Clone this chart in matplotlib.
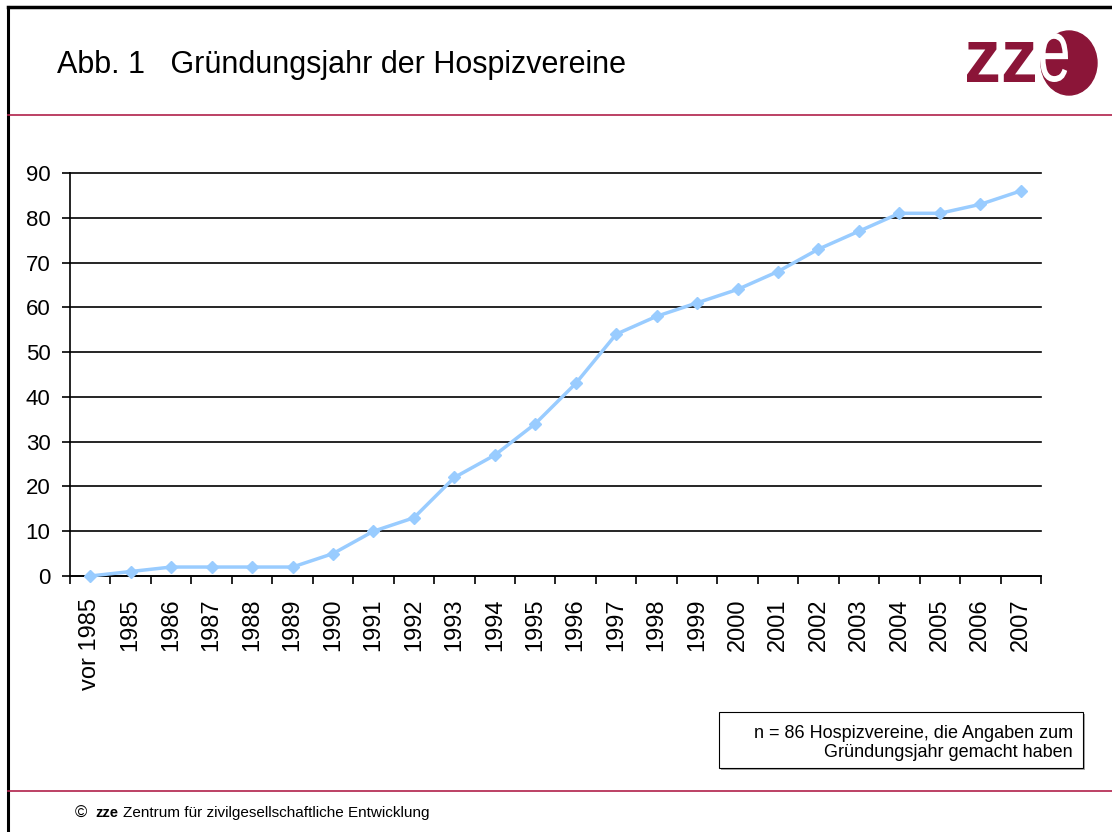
import numpy as np
import matplotlib.pyplot as plt
from matplotlib.patches import Ellipse, Rectangle, PathPatch
from matplotlib.lines import Line2D
from matplotlib.textpath import TextPath
from matplotlib.font_manager import FontProperties
from matplotlib.transforms import Affine2D

plt.rcParams['font.family'] = ['Liberation Sans', 'DejaVu Sans']

jahre = ['vor 1985', '1985', '1986', '1987', '1988', '1989', '1990', '1991',
         '1992', '1993', '1994', '1995', '1996', '1997', '1998', '1999',
         '2000', '2001', '2002', '2003', '2004', '2005', '2006', '2007']
anzahl = [0, 1, 2, 2, 2, 2, 5, 10, 13, 22, 27, 34, 43, 54, 58, 61,
          64, 68, 73, 77, 81, 81, 83, 86]
y_ticks = [0, 10, 20, 30, 40, 50, 60, 70, 80, 90]

W, H = 1112, 832
rot = '#8b1538'

fig = plt.figure(figsize=(W / 100, H / 100), dpi=100)


def logo_text(s, x0, x1, y0, y1, farbe, weight='normal', z=3):
    # Text als Pfad, in ein Pixel-Rechteck eingepasst (y von oben gezaehlt)
    p = TextPath((0, 0), s, size=50, prop=FontProperties(family='Liberation Sans', weight=weight))
    ext = p.get_extents()
    sx = (x1 - x0) / ext.width
    sy = (y1 - y0) / ext.height
    tr = Affine2D().translate(-ext.x0, -ext.y0).scale(sx, sy).translate(x0, H - y1)
    fig.add_artist(PathPatch(tr.transform_path(p), facecolor=farbe,
                             edgecolor='none', transform=None, zorder=z))


# Rahmen und rote Trennlinien
fig.add_artist(Line2D([8 / W, 8 / W], [0, 1 - 7 / H], color='black', lw=2.2))
fig.add_artist(Line2D([8 / W, 1], [1 - 7 / H, 1 - 7 / H], color='black', lw=2.5))
fig.add_artist(Line2D([8 / W, 1], [1 - 115 / H, 1 - 115 / H], color='#b0204a', lw=1.2))
fig.add_artist(Line2D([8 / W, 1], [1 - 791 / H, 1 - 791 / H], color='#b0204a', lw=1.2))

fig.text(57 / W, 1 - 65 / H, 'Abb. 1   Gründungsjahr der Hospizvereine',
         fontsize=22, va='center', ha='left')

# Logo
fig.add_artist(Ellipse((1069 / W, 1 - 63 / H), 56 / W, 64 / H,
                       transform=fig.transFigure, color=rot, zorder=2))
logo_text('zz', 967, 1035, 42, 82, rot, weight='bold')
logo_text('e', 1040, 1068, 33, 82, 'white')

ax = fig.add_axes([70 / W, 1 - 576 / H, (1041 - 70) / W, (576 - 173) / H])
x = np.arange(len(jahre))
ax.plot(x, anzahl, color='#99ccff', lw=2.5, marker='D', markersize=6.5,
        zorder=3, clip_on=False)

ax.set_xlim(-0.5, len(jahre) - 0.5)
ax.set_ylim(0, 90)
ax.set_yticks(y_ticks)
ax.tick_params(axis='y', labelsize=16, length=6, width=1.2, direction='out', pad=8)
ax.yaxis.grid(True, color='black', lw=1.2)
for gl in ax.get_ygridlines():
    gl.set_clip_on(False)
ax.set_axisbelow(True)

ax.set_xticks(x)
ax.set_xticklabels(jahre, rotation=90, fontsize=17)
ax.tick_params(axis='x', length=0, pad=16)
ax.set_xticks(np.arange(-0.5, len(jahre)), minor=True)
ax.tick_params(axis='x', which='minor', length=6, width=1.2, direction='out')

for s in ['top', 'right']:
    ax.spines[s].set_visible(False)
ax.spines['left'].set_linewidth(1.2)
ax.spines['bottom'].set_linewidth(1.2)

# Hinweisbox
fig.add_artist(Rectangle((721 / W, 1 - 770 / H), 364 / W, 56 / H,
                         transform=fig.transFigure, facecolor='#aaaaaa',
                         edgecolor='none'))
fig.add_artist(Rectangle((719 / W, 1 - 768 / H), 364 / W, 56 / H,
                         transform=fig.transFigure, facecolor='white',
                         edgecolor='black', lw=0.8))
fig.text(1073 / W, 1 - 743 / H,
         'n = 86 Hospizvereine, die Angaben zum\nGründungsjahr gemacht haben',
         fontsize=13, ha='right', va='center', linespacing=1.2)

fig.text(75 / W, 1 - 813 / H, '©', fontsize=12, va='center')
fig.text(95 / W, 1 - 813 / H, 'zze', fontsize=10.5, va='center', weight='bold')
fig.text(123 / W, 1 - 813 / H, 'Zentrum für zivilgesellschaftliche Entwicklung',
         fontsize=11, va='center')

fig.savefig('out.png', dpi=100)
